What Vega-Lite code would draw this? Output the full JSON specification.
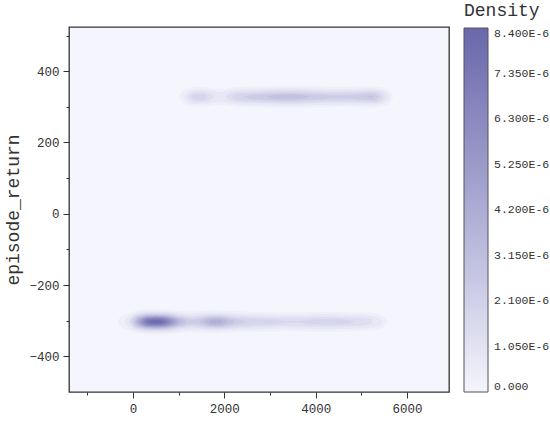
{
"$schema":"https://vega.github.io/schema/vega-lite/v6.json",
"width":380,"height":365,"autosize":"none",
"padding":{"left":69,"top":27,"right":101,"bottom":30},
"background":"white",
"config":{
 "view":{"stroke":"#333","strokeWidth":1.3,"fill":"#f5f5fd"},
 "axis":{"labelFont":"Liberation Mono","labelFontSize":12.5,"labelColor":"#333","tickColor":"#333","domain":false,"grid":false,"titleFont":"Liberation Mono","titleFontSize":18,"titleFontWeight":"normal","titleColor":"#333"}
},
"data":{"values":[
{"g":"a00","v":0.36,"x":-330,"lo":-303,"hi":-303},{"g":"a00","v":0.36,"x":-300,"lo":-312,"hi":-294},{"g":"a00","v":0.36,"x":-200,"lo":-321,"hi":-285},{"g":"a00","v":0.36,"x":-100,"lo":-326,"hi":-280},{"g":"a00","v":0.36,"x":0,"lo":-331,"hi":-275},{"g":"a00","v":0.36,"x":100,"lo":-335,"hi":-271},{"g":"a00","v":0.36,"x":200,"lo":-337,"hi":-269},{"g":"a00","v":0.36,"x":300,"lo":-338,"hi":-268},{"g":"a00","v":0.36,"x":500,"lo":-338,"hi":-268},{"g":"a00","v":0.36,"x":700,"lo":-338,"hi":-268},{"g":"a00","v":0.36,"x":800,"lo":-337,"hi":-269},{"g":"a00","v":0.36,"x":900,"lo":-336,"hi":-270},{"g":"a00","v":0.36,"x":1000,"lo":-334,"hi":-272},{"g":"a00","v":0.36,"x":1200,"lo":-332,"hi":-274},{"g":"a00","v":0.36,"x":1400,"lo":-332,"hi":-274},{"g":"a00","v":0.36,"x":1600,"lo":-334,"hi":-272},{"g":"a00","v":0.36,"x":1800,"lo":-335,"hi":-271},{"g":"a00","v":0.36,"x":2000,"lo":-334,"hi":-272},{"g":"a00","v":0.36,"x":2200,"lo":-333,"hi":-273},{"g":"a00","v":0.36,"x":2600,"lo":-331,"hi":-275},{"g":"a00","v":0.36,"x":3000,"lo":-330,"hi":-276},{"g":"a00","v":0.36,"x":3400,"lo":-329,"hi":-277},{"g":"a00","v":0.36,"x":3800,"lo":-330,"hi":-276},{"g":"a00","v":0.36,"x":4200,"lo":-331,"hi":-275},{"g":"a00","v":0.36,"x":4600,"lo":-330,"hi":-276},{"g":"a00","v":0.36,"x":5000,"lo":-329,"hi":-277},{"g":"a00","v":0.36,"x":5200,"lo":-328,"hi":-278},{"g":"a00","v":0.36,"x":5400,"lo":-324,"hi":-282},{"g":"a00","v":0.36,"x":5600,"lo":-303,"hi":-303},
{"g":"a01","v":0.79,"x":-195,"lo":-303,"hi":-303},{"g":"a01","v":0.79,"x":-100,"lo":-318,"hi":-288},{"g":"a01","v":0.79,"x":0,"lo":-325,"hi":-281},{"g":"a01","v":0.79,"x":100,"lo":-329,"hi":-277},{"g":"a01","v":0.79,"x":200,"lo":-332,"hi":-274},{"g":"a01","v":0.79,"x":300,"lo":-333,"hi":-273},{"g":"a01","v":0.79,"x":500,"lo":-334,"hi":-272},{"g":"a01","v":0.79,"x":700,"lo":-333,"hi":-273},{"g":"a01","v":0.79,"x":800,"lo":-332,"hi":-274},{"g":"a01","v":0.79,"x":900,"lo":-331,"hi":-275},{"g":"a01","v":0.79,"x":1000,"lo":-329,"hi":-277},{"g":"a01","v":0.79,"x":1100,"lo":-327,"hi":-279},{"g":"a01","v":0.79,"x":1200,"lo":-326,"hi":-280},{"g":"a01","v":0.79,"x":1300,"lo":-325,"hi":-281},{"g":"a01","v":0.79,"x":1400,"lo":-326,"hi":-280},{"g":"a01","v":0.79,"x":1500,"lo":-327,"hi":-279},{"g":"a01","v":0.79,"x":1600,"lo":-328,"hi":-278},{"g":"a01","v":0.79,"x":1800,"lo":-329,"hi":-277},{"g":"a01","v":0.79,"x":2000,"lo":-328,"hi":-278},{"g":"a01","v":0.79,"x":2200,"lo":-326,"hi":-280},{"g":"a01","v":0.79,"x":2400,"lo":-325,"hi":-281},{"g":"a01","v":0.79,"x":2600,"lo":-324,"hi":-282},{"g":"a01","v":0.79,"x":3000,"lo":-323,"hi":-283},{"g":"a01","v":0.79,"x":3400,"lo":-322,"hi":-284},{"g":"a01","v":0.79,"x":3800,"lo":-323,"hi":-283},{"g":"a01","v":0.79,"x":4200,"lo":-324,"hi":-282},{"g":"a01","v":0.79,"x":4600,"lo":-323,"hi":-283},{"g":"a01","v":0.79,"x":5000,"lo":-322,"hi":-284},{"g":"a01","v":0.79,"x":5200,"lo":-320,"hi":-286},{"g":"a01","v":0.79,"x":5400,"lo":-313,"hi":-293},{"g":"a01","v":0.79,"x":5470,"lo":-303,"hi":-303},
{"g":"a02","v":1.31,"x":-96,"lo":-303,"hi":-303},{"g":"a02","v":1.31,"x":0,"lo":-319,"hi":-287},{"g":"a02","v":1.31,"x":100,"lo":-324,"hi":-282},{"g":"a02","v":1.31,"x":200,"lo":-327,"hi":-279},{"g":"a02","v":1.31,"x":300,"lo":-329,"hi":-277},{"g":"a02","v":1.31,"x":500,"lo":-329,"hi":-277},{"g":"a02","v":1.31,"x":700,"lo":-329,"hi":-277},{"g":"a02","v":1.31,"x":800,"lo":-328,"hi":-278},{"g":"a02","v":1.31,"x":900,"lo":-326,"hi":-280},{"g":"a02","v":1.31,"x":1000,"lo":-324,"hi":-282},{"g":"a02","v":1.31,"x":1100,"lo":-322,"hi":-284},{"g":"a02","v":1.31,"x":1200,"lo":-320,"hi":-286},{"g":"a02","v":1.31,"x":1300,"lo":-319,"hi":-287},{"g":"a02","v":1.31,"x":1400,"lo":-320,"hi":-286},{"g":"a02","v":1.31,"x":1500,"lo":-321,"hi":-285},{"g":"a02","v":1.31,"x":1600,"lo":-323,"hi":-283},{"g":"a02","v":1.31,"x":1800,"lo":-324,"hi":-282},{"g":"a02","v":1.31,"x":2000,"lo":-323,"hi":-283},{"g":"a02","v":1.31,"x":2100,"lo":-322,"hi":-284},{"g":"a02","v":1.31,"x":2200,"lo":-321,"hi":-285},{"g":"a02","v":1.31,"x":2400,"lo":-319,"hi":-287},{"g":"a02","v":1.31,"x":2600,"lo":-318,"hi":-288},{"g":"a02","v":1.31,"x":2800,"lo":-317,"hi":-289},{"g":"a02","v":1.31,"x":3000,"lo":-316,"hi":-290},{"g":"a02","v":1.31,"x":3400,"lo":-315,"hi":-291},{"g":"a02","v":1.31,"x":3600,"lo":-315,"hi":-291},{"g":"a02","v":1.31,"x":3800,"lo":-316,"hi":-290},{"g":"a02","v":1.31,"x":4200,"lo":-317,"hi":-289},{"g":"a02","v":1.31,"x":4400,"lo":-317,"hi":-289},{"g":"a02","v":1.31,"x":4600,"lo":-316,"hi":-290},{"g":"a02","v":1.31,"x":4800,"lo":-315,"hi":-291},{"g":"a02","v":1.31,"x":5000,"lo":-314,"hi":-292},{"g":"a02","v":1.31,"x":5200,"lo":-310,"hi":-296},{"g":"a02","v":1.31,"x":5260,"lo":-303,"hi":-303},
{"g":"a03","v":1.84,"x":-52,"lo":-303,"hi":-303},{"g":"a03","v":1.84,"x":0,"lo":-314,"hi":-292},{"g":"a03","v":1.84,"x":100,"lo":-321,"hi":-285},{"g":"a03","v":1.84,"x":200,"lo":-324,"hi":-282},{"g":"a03","v":1.84,"x":300,"lo":-326,"hi":-280},{"g":"a03","v":1.84,"x":500,"lo":-327,"hi":-279},{"g":"a03","v":1.84,"x":700,"lo":-326,"hi":-280},{"g":"a03","v":1.84,"x":800,"lo":-325,"hi":-281},{"g":"a03","v":1.84,"x":900,"lo":-323,"hi":-283},{"g":"a03","v":1.84,"x":1000,"lo":-320,"hi":-286},{"g":"a03","v":1.84,"x":1100,"lo":-318,"hi":-288},{"g":"a03","v":1.84,"x":1200,"lo":-315,"hi":-291},{"g":"a03","v":1.84,"x":1300,"lo":-314,"hi":-292},{"g":"a03","v":1.84,"x":1400,"lo":-315,"hi":-291},{"g":"a03","v":1.84,"x":1500,"lo":-317,"hi":-289},{"g":"a03","v":1.84,"x":1600,"lo":-319,"hi":-287},{"g":"a03","v":1.84,"x":1700,"lo":-321,"hi":-285},{"g":"a03","v":1.84,"x":1800,"lo":-321,"hi":-285},{"g":"a03","v":1.84,"x":1900,"lo":-321,"hi":-285},{"g":"a03","v":1.84,"x":2000,"lo":-320,"hi":-286},{"g":"a03","v":1.84,"x":2100,"lo":-318,"hi":-288},{"g":"a03","v":1.84,"x":2200,"lo":-316,"hi":-290},{"g":"a03","v":1.84,"x":2400,"lo":-314,"hi":-292},{"g":"a03","v":1.84,"x":2600,"lo":-312,"hi":-294},{"g":"a03","v":1.84,"x":2800,"lo":-311,"hi":-295},{"g":"a03","v":1.84,"x":3000,"lo":-310,"hi":-296},{"g":"a03","v":1.84,"x":3200,"lo":-308,"hi":-298},{"g":"a03","v":1.84,"x":3400,"lo":-305,"hi":-301},{"g":"a03","v":1.84,"x":3600,"lo":-305,"hi":-301},{"g":"a03","v":1.84,"x":3800,"lo":-308,"hi":-298},{"g":"a03","v":1.84,"x":4000,"lo":-310,"hi":-296},{"g":"a03","v":1.84,"x":4200,"lo":-311,"hi":-295},{"g":"a03","v":1.84,"x":4400,"lo":-311,"hi":-295},{"g":"a03","v":1.84,"x":4600,"lo":-310,"hi":-296},{"g":"a03","v":1.84,"x":4800,"lo":-305,"hi":-301},{"g":"a03","v":1.84,"x":4850,"lo":-303,"hi":-303},
{"g":"a04","v":2.36,"x":-8,"lo":-303,"hi":-303},{"g":"a04","v":2.36,"x":0,"lo":-307,"hi":-299},{"g":"a04","v":2.36,"x":100,"lo":-318,"hi":-288},{"g":"a04","v":2.36,"x":200,"lo":-322,"hi":-284},{"g":"a04","v":2.36,"x":300,"lo":-324,"hi":-282},{"g":"a04","v":2.36,"x":500,"lo":-324,"hi":-282},{"g":"a04","v":2.36,"x":700,"lo":-324,"hi":-282},{"g":"a04","v":2.36,"x":800,"lo":-322,"hi":-284},{"g":"a04","v":2.36,"x":900,"lo":-320,"hi":-286},{"g":"a04","v":2.36,"x":1000,"lo":-317,"hi":-289},{"g":"a04","v":2.36,"x":1100,"lo":-314,"hi":-292},{"g":"a04","v":2.36,"x":1200,"lo":-311,"hi":-295},{"g":"a04","v":2.36,"x":1300,"lo":-309,"hi":-297},{"g":"a04","v":2.36,"x":1400,"lo":-310,"hi":-296},{"g":"a04","v":2.36,"x":1500,"lo":-313,"hi":-293},{"g":"a04","v":2.36,"x":1600,"lo":-316,"hi":-290},{"g":"a04","v":2.36,"x":1700,"lo":-317,"hi":-289},{"g":"a04","v":2.36,"x":1800,"lo":-318,"hi":-288},{"g":"a04","v":2.36,"x":1900,"lo":-318,"hi":-288},{"g":"a04","v":2.36,"x":2000,"lo":-316,"hi":-290},{"g":"a04","v":2.36,"x":2100,"lo":-315,"hi":-291},{"g":"a04","v":2.36,"x":2200,"lo":-312,"hi":-294},{"g":"a04","v":2.36,"x":2400,"lo":-307,"hi":-299},{"g":"a04","v":2.36,"x":2500,"lo":-303,"hi":-303},
{"g":"a05a","v":2.89,"x":24,"lo":-303,"hi":-303},{"g":"a05a","v":2.89,"x":100,"lo":-315,"hi":-291},{"g":"a05a","v":2.89,"x":200,"lo":-319,"hi":-287},{"g":"a05a","v":2.89,"x":300,"lo":-322,"hi":-284},{"g":"a05a","v":2.89,"x":400,"lo":-322,"hi":-284},{"g":"a05a","v":2.89,"x":500,"lo":-323,"hi":-283},{"g":"a05a","v":2.89,"x":600,"lo":-322,"hi":-284},{"g":"a05a","v":2.89,"x":700,"lo":-322,"hi":-284},{"g":"a05a","v":2.89,"x":800,"lo":-320,"hi":-286},{"g":"a05a","v":2.89,"x":900,"lo":-318,"hi":-288},{"g":"a05a","v":2.89,"x":1000,"lo":-314,"hi":-292},{"g":"a05a","v":2.89,"x":1100,"lo":-310,"hi":-296},{"g":"a05a","v":2.89,"x":1175,"lo":-303,"hi":-303},
{"g":"a05b","v":2.89,"x":1456,"lo":-303,"hi":-303},{"g":"a05b","v":2.89,"x":1500,"lo":-308,"hi":-298},{"g":"a05b","v":2.89,"x":1600,"lo":-312,"hi":-294},{"g":"a05b","v":2.89,"x":1700,"lo":-315,"hi":-291},{"g":"a05b","v":2.89,"x":1800,"lo":-315,"hi":-291},{"g":"a05b","v":2.89,"x":1900,"lo":-315,"hi":-291},{"g":"a05b","v":2.89,"x":2000,"lo":-313,"hi":-293},{"g":"a05b","v":2.89,"x":2100,"lo":-310,"hi":-296},{"g":"a05b","v":2.89,"x":2200,"lo":-306,"hi":-300},{"g":"a05b","v":2.89,"x":2230,"lo":-303,"hi":-303},
{"g":"a06a","v":3.41,"x":53,"lo":-303,"hi":-303},{"g":"a06a","v":3.41,"x":100,"lo":-312,"hi":-294},{"g":"a06a","v":3.41,"x":200,"lo":-317,"hi":-289},{"g":"a06a","v":3.41,"x":300,"lo":-320,"hi":-286},{"g":"a06a","v":3.41,"x":400,"lo":-321,"hi":-285},{"g":"a06a","v":3.41,"x":500,"lo":-321,"hi":-285},{"g":"a06a","v":3.41,"x":600,"lo":-321,"hi":-285},{"g":"a06a","v":3.41,"x":700,"lo":-320,"hi":-286},{"g":"a06a","v":3.41,"x":800,"lo":-318,"hi":-288},{"g":"a06a","v":3.41,"x":900,"lo":-315,"hi":-291},{"g":"a06a","v":3.41,"x":1000,"lo":-311,"hi":-295},{"g":"a06a","v":3.41,"x":1081,"lo":-303,"hi":-303},
{"g":"a06b","v":3.41,"x":1558,"lo":-303,"hi":-303},{"g":"a06b","v":3.41,"x":1600,"lo":-308,"hi":-298},{"g":"a06b","v":3.41,"x":1700,"lo":-311,"hi":-295},{"g":"a06b","v":3.41,"x":1800,"lo":-312,"hi":-294},{"g":"a06b","v":3.41,"x":1900,"lo":-312,"hi":-294},{"g":"a06b","v":3.41,"x":2000,"lo":-310,"hi":-296},{"g":"a06b","v":3.41,"x":2090,"lo":-303,"hi":-303},
{"g":"a07a","v":3.94,"x":82,"lo":-303,"hi":-303},{"g":"a07a","v":3.94,"x":100,"lo":-308,"hi":-298},{"g":"a07a","v":3.94,"x":200,"lo":-315,"hi":-291},{"g":"a07a","v":3.94,"x":300,"lo":-318,"hi":-288},{"g":"a07a","v":3.94,"x":400,"lo":-319,"hi":-287},{"g":"a07a","v":3.94,"x":500,"lo":-320,"hi":-286},{"g":"a07a","v":3.94,"x":600,"lo":-319,"hi":-287},{"g":"a07a","v":3.94,"x":700,"lo":-318,"hi":-288},{"g":"a07a","v":3.94,"x":800,"lo":-316,"hi":-290},{"g":"a07a","v":3.94,"x":900,"lo":-313,"hi":-293},{"g":"a07a","v":3.94,"x":1000,"lo":-306,"hi":-300},{"g":"a07a","v":3.94,"x":1016,"lo":-303,"hi":-303},
{"g":"a07b","v":3.94,"x":1655,"lo":-303,"hi":-303},{"g":"a07b","v":3.94,"x":1700,"lo":-307,"hi":-299},{"g":"a07b","v":3.94,"x":1800,"lo":-309,"hi":-297},{"g":"a07b","v":3.94,"x":1900,"lo":-308,"hi":-298},{"g":"a07b","v":3.94,"x":1981,"lo":-303,"hi":-303},
{"g":"a08","v":4.46,"x":111,"lo":-303,"hi":-303},{"g":"a08","v":4.46,"x":200,"lo":-313,"hi":-293},{"g":"a08","v":4.46,"x":300,"lo":-317,"hi":-289},{"g":"a08","v":4.46,"x":400,"lo":-318,"hi":-288},{"g":"a08","v":4.46,"x":500,"lo":-318,"hi":-288},{"g":"a08","v":4.46,"x":600,"lo":-318,"hi":-288},{"g":"a08","v":4.46,"x":700,"lo":-317,"hi":-289},{"g":"a08","v":4.46,"x":800,"lo":-315,"hi":-291},{"g":"a08","v":4.46,"x":900,"lo":-311,"hi":-295},{"g":"a08","v":4.46,"x":967,"lo":-303,"hi":-303},
{"g":"a09","v":4.99,"x":140,"lo":-303,"hi":-303},{"g":"a09","v":4.99,"x":200,"lo":-311,"hi":-295},{"g":"a09","v":4.99,"x":300,"lo":-315,"hi":-291},{"g":"a09","v":4.99,"x":400,"lo":-316,"hi":-290},{"g":"a09","v":4.99,"x":500,"lo":-317,"hi":-289},{"g":"a09","v":4.99,"x":600,"lo":-316,"hi":-290},{"g":"a09","v":4.99,"x":700,"lo":-315,"hi":-291},{"g":"a09","v":4.99,"x":800,"lo":-313,"hi":-293},{"g":"a09","v":4.99,"x":900,"lo":-307,"hi":-299},{"g":"a09","v":4.99,"x":923,"lo":-303,"hi":-303},
{"g":"a10","v":5.51,"x":169,"lo":-303,"hi":-303},{"g":"a10","v":5.51,"x":200,"lo":-309,"hi":-297},{"g":"a10","v":5.51,"x":300,"lo":-314,"hi":-292},{"g":"a10","v":5.51,"x":400,"lo":-315,"hi":-291},{"g":"a10","v":5.51,"x":500,"lo":-315,"hi":-291},{"g":"a10","v":5.51,"x":600,"lo":-315,"hi":-291},{"g":"a10","v":5.51,"x":700,"lo":-314,"hi":-292},{"g":"a10","v":5.51,"x":800,"lo":-311,"hi":-295},{"g":"a10","v":5.51,"x":881,"lo":-303,"hi":-303},
{"g":"a11","v":6.04,"x":199,"lo":-303,"hi":-303},{"g":"a11","v":6.04,"x":300,"lo":-312,"hi":-294},{"g":"a11","v":6.04,"x":400,"lo":-314,"hi":-292},{"g":"a11","v":6.04,"x":500,"lo":-314,"hi":-292},{"g":"a11","v":6.04,"x":600,"lo":-314,"hi":-292},{"g":"a11","v":6.04,"x":700,"lo":-312,"hi":-294},{"g":"a11","v":6.04,"x":800,"lo":-308,"hi":-298},{"g":"a11","v":6.04,"x":840,"lo":-303,"hi":-303},
{"g":"a12","v":6.56,"x":233,"lo":-303,"hi":-303},{"g":"a12","v":6.56,"x":300,"lo":-310,"hi":-296},{"g":"a12","v":6.56,"x":400,"lo":-312,"hi":-294},{"g":"a12","v":6.56,"x":500,"lo":-313,"hi":-293},{"g":"a12","v":6.56,"x":600,"lo":-312,"hi":-294},{"g":"a12","v":6.56,"x":700,"lo":-310,"hi":-296},{"g":"a12","v":6.56,"x":800,"lo":-303,"hi":-303},
{"g":"a13","v":7.09,"x":268,"lo":-303,"hi":-303},{"g":"a13","v":7.09,"x":300,"lo":-308,"hi":-298},{"g":"a13","v":7.09,"x":400,"lo":-311,"hi":-295},{"g":"a13","v":7.09,"x":500,"lo":-311,"hi":-295},{"g":"a13","v":7.09,"x":600,"lo":-311,"hi":-295},{"g":"a13","v":7.09,"x":700,"lo":-308,"hi":-298},{"g":"a13","v":7.09,"x":752,"lo":-303,"hi":-303},
{"g":"a14","v":7.61,"x":306,"lo":-303,"hi":-303},{"g":"a14","v":7.61,"x":400,"lo":-309,"hi":-297},{"g":"a14","v":7.61,"x":500,"lo":-309,"hi":-297},{"g":"a14","v":7.61,"x":600,"lo":-309,"hi":-297},{"g":"a14","v":7.61,"x":707,"lo":-303,"hi":-303},
{"g":"a15","v":8.14,"x":372,"lo":-303,"hi":-303},{"g":"a15","v":8.14,"x":400,"lo":-306,"hi":-300},{"g":"a15","v":8.14,"x":500,"lo":-307,"hi":-299},{"g":"a15","v":8.14,"x":600,"lo":-306,"hi":-300},{"g":"a15","v":8.14,"x":632,"lo":-303,"hi":-303},
{"g":"b00","v":0.36,"x":1010,"lo":328,"hi":328},{"g":"b00","v":0.36,"x":1100,"lo":310,"hi":346},{"g":"b00","v":0.36,"x":1200,"lo":304,"hi":352},{"g":"b00","v":0.36,"x":1300,"lo":301,"hi":355},{"g":"b00","v":0.36,"x":1400,"lo":300,"hi":356},{"g":"b00","v":0.36,"x":1500,"lo":300,"hi":356},{"g":"b00","v":0.36,"x":1600,"lo":301,"hi":355},{"g":"b00","v":0.36,"x":1700,"lo":303,"hi":353},{"g":"b00","v":0.36,"x":1800,"lo":305,"hi":351},{"g":"b00","v":0.36,"x":1900,"lo":305,"hi":351},{"g":"b00","v":0.36,"x":2000,"lo":305,"hi":351},{"g":"b00","v":0.36,"x":2200,"lo":301,"hi":355},{"g":"b00","v":0.36,"x":2400,"lo":300,"hi":356},{"g":"b00","v":0.36,"x":2800,"lo":299,"hi":357},{"g":"b00","v":0.36,"x":3200,"lo":298,"hi":358},{"g":"b00","v":0.36,"x":3600,"lo":298,"hi":358},{"g":"b00","v":0.36,"x":4200,"lo":299,"hi":357},{"g":"b00","v":0.36,"x":4600,"lo":300,"hi":356},{"g":"b00","v":0.36,"x":5000,"lo":299,"hi":357},{"g":"b00","v":0.36,"x":5200,"lo":298,"hi":358},{"g":"b00","v":0.36,"x":5300,"lo":299,"hi":357},{"g":"b00","v":0.36,"x":5400,"lo":300,"hi":356},{"g":"b00","v":0.36,"x":5500,"lo":303,"hi":353},{"g":"b00","v":0.36,"x":5600,"lo":309,"hi":347},{"g":"b00","v":0.36,"x":5700,"lo":328,"hi":328},
{"g":"b01","v":0.79,"x":1104,"lo":328,"hi":328},{"g":"b01","v":0.79,"x":1200,"lo":312,"hi":344},{"g":"b01","v":0.79,"x":1300,"lo":308,"hi":348},{"g":"b01","v":0.79,"x":1400,"lo":307,"hi":349},{"g":"b01","v":0.79,"x":1500,"lo":307,"hi":349},{"g":"b01","v":0.79,"x":1600,"lo":308,"hi":348},{"g":"b01","v":0.79,"x":1700,"lo":310,"hi":346},{"g":"b01","v":0.79,"x":1800,"lo":313,"hi":343},{"g":"b01","v":0.79,"x":1900,"lo":315,"hi":341},{"g":"b01","v":0.79,"x":2000,"lo":313,"hi":343},{"g":"b01","v":0.79,"x":2100,"lo":310,"hi":346},{"g":"b01","v":0.79,"x":2200,"lo":308,"hi":348},{"g":"b01","v":0.79,"x":2400,"lo":306,"hi":350},{"g":"b01","v":0.79,"x":2800,"lo":305,"hi":351},{"g":"b01","v":0.79,"x":3200,"lo":304,"hi":352},{"g":"b01","v":0.79,"x":3600,"lo":304,"hi":352},{"g":"b01","v":0.79,"x":4000,"lo":305,"hi":351},{"g":"b01","v":0.79,"x":4400,"lo":306,"hi":350},{"g":"b01","v":0.79,"x":4800,"lo":306,"hi":350},{"g":"b01","v":0.79,"x":5000,"lo":305,"hi":351},{"g":"b01","v":0.79,"x":5200,"lo":304,"hi":352},{"g":"b01","v":0.79,"x":5300,"lo":305,"hi":351},{"g":"b01","v":0.79,"x":5400,"lo":307,"hi":349},{"g":"b01","v":0.79,"x":5500,"lo":311,"hi":345},{"g":"b01","v":0.79,"x":5600,"lo":321,"hi":335},{"g":"b01","v":0.79,"x":5619,"lo":328,"hi":328},
{"g":"b02a","v":1.31,"x":1192,"lo":328,"hi":328},{"g":"b02a","v":1.31,"x":1300,"lo":315,"hi":341},{"g":"b02a","v":1.31,"x":1400,"lo":313,"hi":343},{"g":"b02a","v":1.31,"x":1500,"lo":313,"hi":343},{"g":"b02a","v":1.31,"x":1600,"lo":315,"hi":341},{"g":"b02a","v":1.31,"x":1700,"lo":320,"hi":336},{"g":"b02a","v":1.31,"x":1783,"lo":328,"hi":328},
{"g":"b02b","v":1.31,"x":2017,"lo":328,"hi":328},{"g":"b02b","v":1.31,"x":2100,"lo":320,"hi":336},{"g":"b02b","v":1.31,"x":2200,"lo":315,"hi":341},{"g":"b02b","v":1.31,"x":2400,"lo":313,"hi":343},{"g":"b02b","v":1.31,"x":2600,"lo":312,"hi":344},{"g":"b02b","v":1.31,"x":2800,"lo":311,"hi":345},{"g":"b02b","v":1.31,"x":3000,"lo":310,"hi":346},{"g":"b02b","v":1.31,"x":3200,"lo":309,"hi":347},{"g":"b02b","v":1.31,"x":3400,"lo":309,"hi":347},{"g":"b02b","v":1.31,"x":3600,"lo":309,"hi":347},{"g":"b02b","v":1.31,"x":3800,"lo":310,"hi":346},{"g":"b02b","v":1.31,"x":4000,"lo":311,"hi":345},{"g":"b02b","v":1.31,"x":4200,"lo":312,"hi":344},{"g":"b02b","v":1.31,"x":4600,"lo":312,"hi":344},{"g":"b02b","v":1.31,"x":4800,"lo":312,"hi":344},{"g":"b02b","v":1.31,"x":5000,"lo":311,"hi":345},{"g":"b02b","v":1.31,"x":5200,"lo":310,"hi":346},{"g":"b02b","v":1.31,"x":5300,"lo":310,"hi":346},{"g":"b02b","v":1.31,"x":5400,"lo":313,"hi":343},{"g":"b02b","v":1.31,"x":5500,"lo":321,"hi":335},{"g":"b02b","v":1.31,"x":5525,"lo":328,"hi":328},
{"g":"b03a","v":1.84,"x":1279,"lo":328,"hi":328},{"g":"b03a","v":1.84,"x":1300,"lo":323,"hi":333},{"g":"b03a","v":1.84,"x":1400,"lo":319,"hi":337},{"g":"b03a","v":1.84,"x":1500,"lo":319,"hi":337},{"g":"b03a","v":1.84,"x":1600,"lo":323,"hi":333},{"g":"b03a","v":1.84,"x":1631,"lo":328,"hi":328},
{"g":"b03b","v":1.84,"x":2169,"lo":328,"hi":328},{"g":"b03b","v":1.84,"x":2200,"lo":323,"hi":333},{"g":"b03b","v":1.84,"x":2400,"lo":318,"hi":338},{"g":"b03b","v":1.84,"x":2600,"lo":317,"hi":339},{"g":"b03b","v":1.84,"x":2800,"lo":316,"hi":340},{"g":"b03b","v":1.84,"x":3000,"lo":315,"hi":341},{"g":"b03b","v":1.84,"x":3200,"lo":314,"hi":342},{"g":"b03b","v":1.84,"x":3400,"lo":313,"hi":343},{"g":"b03b","v":1.84,"x":3600,"lo":314,"hi":342},{"g":"b03b","v":1.84,"x":3800,"lo":315,"hi":341},{"g":"b03b","v":1.84,"x":4000,"lo":316,"hi":340},{"g":"b03b","v":1.84,"x":4200,"lo":317,"hi":339},{"g":"b03b","v":1.84,"x":4600,"lo":317,"hi":339},{"g":"b03b","v":1.84,"x":4800,"lo":317,"hi":339},{"g":"b03b","v":1.84,"x":5000,"lo":316,"hi":340},{"g":"b03b","v":1.84,"x":5200,"lo":315,"hi":341},{"g":"b03b","v":1.84,"x":5300,"lo":315,"hi":341},{"g":"b03b","v":1.84,"x":5400,"lo":319,"hi":337},{"g":"b03b","v":1.84,"x":5453,"lo":328,"hi":328},
{"g":"b04","v":2.36,"x":2400,"lo":328,"hi":328},{"g":"b04","v":2.36,"x":2600,"lo":322,"hi":334},{"g":"b04","v":2.36,"x":2800,"lo":320,"hi":336},{"g":"b04","v":2.36,"x":3000,"lo":319,"hi":337},{"g":"b04","v":2.36,"x":3200,"lo":318,"hi":338},{"g":"b04","v":2.36,"x":3400,"lo":317,"hi":339},{"g":"b04","v":2.36,"x":3600,"lo":318,"hi":338},{"g":"b04","v":2.36,"x":3800,"lo":319,"hi":337},{"g":"b04","v":2.36,"x":4000,"lo":320,"hi":336},{"g":"b04","v":2.36,"x":4200,"lo":322,"hi":334},{"g":"b04","v":2.36,"x":4400,"lo":324,"hi":332},{"g":"b04","v":2.36,"x":4600,"lo":324,"hi":332},{"g":"b04","v":2.36,"x":4800,"lo":322,"hi":334},{"g":"b04","v":2.36,"x":5000,"lo":320,"hi":336},{"g":"b04","v":2.36,"x":5200,"lo":319,"hi":337},{"g":"b04","v":2.36,"x":5300,"lo":320,"hi":336},{"g":"b04","v":2.36,"x":5383,"lo":328,"hi":328},
{"g":"b05a","v":2.89,"x":2925,"lo":328,"hi":328},{"g":"b05a","v":2.89,"x":3000,"lo":325,"hi":331},{"g":"b05a","v":2.89,"x":3200,"lo":322,"hi":334},{"g":"b05a","v":2.89,"x":3400,"lo":321,"hi":335},{"g":"b05a","v":2.89,"x":3600,"lo":322,"hi":334},{"g":"b05a","v":2.89,"x":3800,"lo":325,"hi":331},{"g":"b05a","v":2.89,"x":3875,"lo":328,"hi":328},
{"g":"b05b","v":2.89,"x":5125,"lo":328,"hi":328},{"g":"b05b","v":2.89,"x":5200,"lo":325,"hi":331},{"g":"b05b","v":2.89,"x":5275,"lo":328,"hi":328}
]},
"layer":[
 {"mark":{"type":"area","interpolate":"monotone"},
  "encoding":{
   "x":{"field":"x","type":"quantitative","scale":{"domain":[-1400,6920],"nice":false,"zero":false},
        "axis":{"orient":"bottom","values":[0,2000,4000,6000],"format":"d","title":null,"tickSize":6,"labelPadding":4}},
   "y":{"field":"lo","type":"quantitative","stack":null,"scale":{"domain":[-500,524],"nice":false,"zero":false},
        "axis":{"orient":"left","values":[-400,-200,0,200,400],"format":"d","title":"episode_return","tickSize":6,"labelPadding":4,"titlePadding":6}},
   "y2":{"field":"hi"},
   "detail":{"field":"g"},
   "color":{"field":"v","type":"quantitative","scale":{"domain":[0,8.4],"range":["#f5f5fd","#6868ab"]},
     "legend":{"orient":"none","legendX":395,"legendY":-25,"direction":"vertical","gradientLength":364,"gradientThickness":24,
       "gradientStrokeColor":"#555","gradientStrokeWidth":1,"title":"Density","titleFont":"Liberation Mono","titleFontSize":18,"titleFontWeight":"normal","titleColor":"#333","titlePadding":8,
       "labelFont":"Liberation Mono","labelFontSize":11.5,"labelColor":"#333","labelOffset":6,"labelOverlap":false,
       "values":[0,1.05,2.1,3.15,4.2,5.25,6.3,7.35,8.4],
       "labelExpr":"datum.value == 0 ? '0.000' : format(datum.value, '.3f') + 'E-6'"}}
  }},
 {"mark":{"type":"point","opacity":0},
  "encoding":{
   "x":{"field":"x","type":"quantitative","axis":{"orient":"bottom","values":[-1000,1000,3000,5000],"labels":false,"title":null,"tickSize":3}},
   "y":{"field":"lo","type":"quantitative","axis":{"orient":"left","values":[-300,-100,100,300,500],"labels":false,"title":null,"tickSize":3}}
  }}
],
"resolve":{"axis":{"x":"independent","y":"independent"}}
}
